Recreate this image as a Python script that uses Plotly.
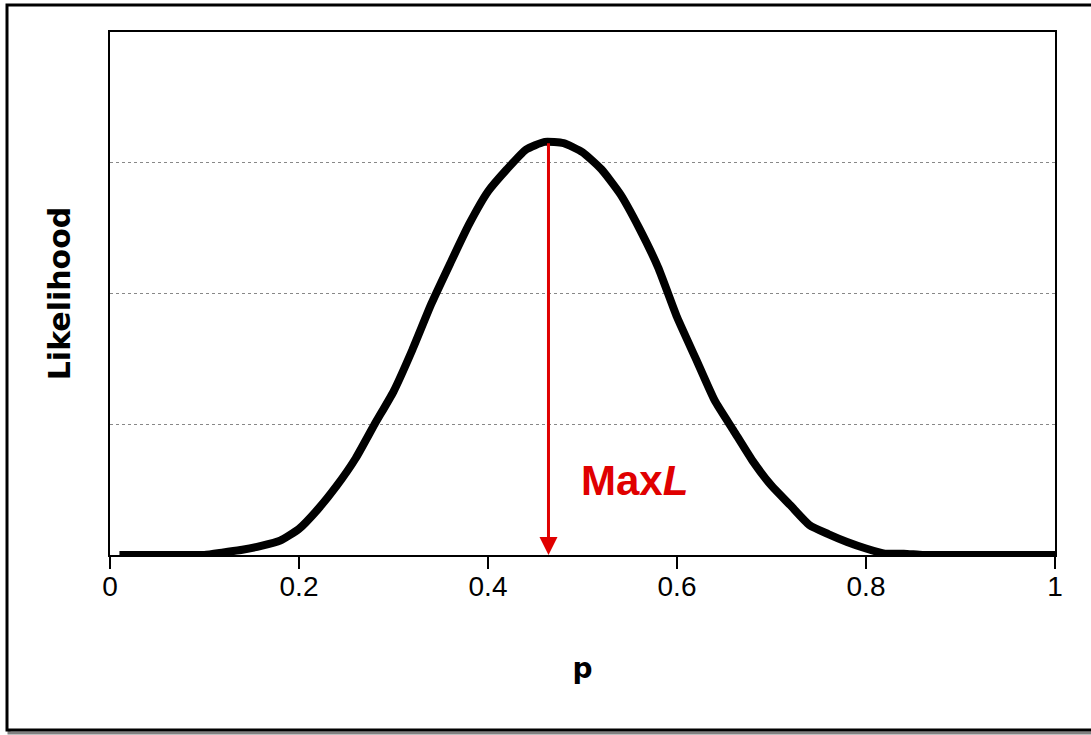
import plotly.graph_objects as go

# Data (likelihood in gridline units)
p_values = [0.01, 0.02, 0.04, 0.06, 0.08, 0.10, 0.12, 0.14, 0.16, 0.18, 0.20,
            0.22, 0.24, 0.26, 0.28, 0.30, 0.32, 0.34, 0.36, 0.38, 0.40,
            0.42, 0.44, 0.46, 0.48, 0.50, 0.52, 0.54, 0.56, 0.58, 0.60,
            0.62, 0.64, 0.66, 0.68, 0.70, 0.72, 0.74, 0.76, 0.78, 0.80,
            0.82, 0.84, 0.86, 0.88, 0.90, 0.92, 0.94, 0.96, 0.98, 1.00]
likelihood = [0, 0, 0, 0, 0, 0, 0.02, 0.04, 0.07, 0.11, 0.20,
              0.35, 0.53, 0.74, 1.00, 1.25, 1.57, 1.92, 2.23, 2.53, 2.78,
              2.95, 3.10, 3.16, 3.15, 3.08, 2.95, 2.76, 2.50, 2.20, 1.82,
              1.50, 1.18, 0.95, 0.72, 0.53, 0.38, 0.23, 0.16, 0.10, 0.05,
              0.01, 0.01, 0, 0, 0, 0, 0, 0, 0, 0]
p_max = 0.464
l_max = 3.16
x_ticks = [0, 0.2, 0.4, 0.6, 0.8, 1]
x_tick_labels = ["0", "0.2", "0.4", "0.6", "0.8", "1"]
label_text = "Max<i>L</i>"
label_pos = (0.555, 0.57)

W, H = 1091, 735
L, R, T, B = 110, 36, 32, 180
pw, ph = W - L - R, H - T - B

def px(x):
    return (x - L) / pw

def py(y):
    return (H - B - y) / ph

fig = go.Figure()
fig.add_trace(go.Scatter(
    x=p_values, y=likelihood, mode="lines",
    line=dict(color="black", width=8, shape="spline", smoothing=0.5),
    hoverinfo="skip", showlegend=False))

# Outer chart frame with shadow
fig.add_shape(type="rect", xref="paper", yref="paper",
              x0=px(9), x1=px(1100), y0=py(733), y1=py(7),
              line=dict(color="#808080", width=3), layer="below")
fig.add_shape(type="rect", xref="paper", yref="paper",
              x0=px(7), x1=px(1098), y0=py(730), y1=py(5),
              line=dict(color="black", width=3), fillcolor="white", layer="below")

# Max arrow
fig.add_annotation(x=p_max, y=0, ax=p_max, ay=l_max, xref="x", yref="y",
                   axref="x", ayref="y", showarrow=True, arrowhead=2,
                   arrowsize=1.2, arrowwidth=3, arrowcolor="#e00000", text="")
fig.add_annotation(x=label_pos[0], y=label_pos[1], xref="x", yref="y",
                   text="<b>" + label_text + "</b>", showarrow=False,
                   font=dict(family="Liberation Sans, Arial", size=42, color="#e00000"))

fig.update_layout(
    width=W, height=H,
    margin=dict(l=L, r=R, t=T, b=B, pad=0),
    paper_bgcolor="white", plot_bgcolor="white",
    font=dict(family="Liberation Sans, Arial", color="black"),
    xaxis=dict(range=[0, 1], tickvals=x_ticks, ticktext=x_tick_labels,
               ticks="outside", ticklen=12, tickwidth=2, tickcolor="black",
               ticklabelstandoff=-7,
               tickfont=dict(size=28), showgrid=False, zeroline=False,
               showline=True, linecolor="black", linewidth=2, mirror=True,
               title=dict(text="<b>p</b>", font=dict(family="DejaVu Sans", size=28),
                          standoff=58)),
    yaxis=dict(range=[0, 4], tickvals=[1, 2, 3], showticklabels=False,
               ticks="", showgrid=True, gridcolor="#888888", gridwidth=1,
               griddash="dot", zeroline=False,
               showline=True, linecolor="black", linewidth=2, mirror=True,
               title=dict(text="<b>Likelihood</b>", font=dict(family="DejaVu Sans", size=30),
                          standoff=29)),
)

fig.write_html("out.html", config={"displayModeBar": False},
               post_script="document.body.style.margin='0';")
